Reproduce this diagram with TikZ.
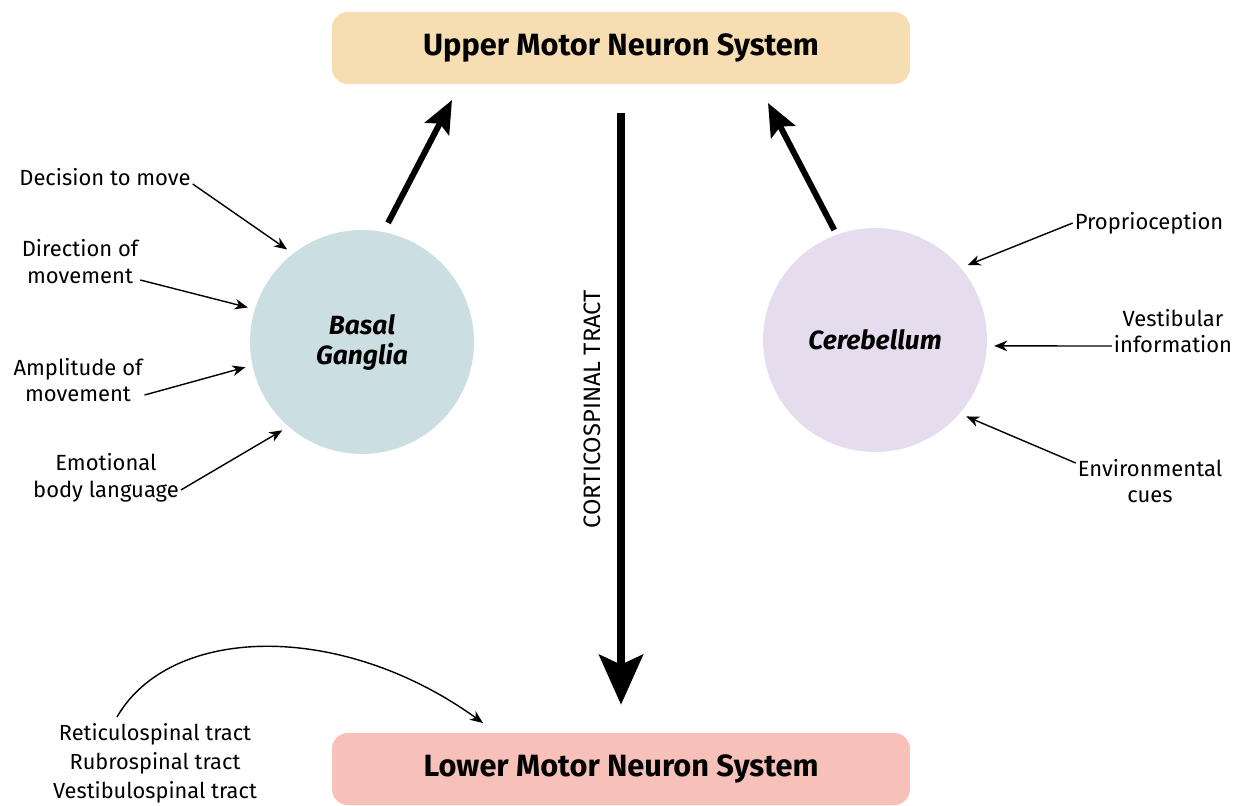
\documentclass[tikz,border=0pt]{standalone}
\usepackage{fontspec}
\setmainfont{Fira Sans}
\usepackage{tikz}
\usetikzlibrary{arrows.meta,calc}
\definecolor{Wheat}{HTML}{F6DEB2}
\definecolor{Salmon}{HTML}{F7C0B8}
\definecolor{Mist}{HTML}{CBDFE3}
\definecolor{Lilac}{HTML}{E5DDEE}
\tikzset{
  sysbox/.style={rounded corners=9pt, minimum width=11.56cm, minimum height=1.44cm, inner sep=0pt, font=\fontsize{17.5}{20}\selectfont\bfseries},
  regioncircle/.style={circle, minimum size=4.48cm, inner sep=0pt, align=center, font=\fontsize{15}{17}\selectfont\bfseries\itshape},
  cuelabel/.style={align=center, inner sep=1pt, font=\fontsize{12.5}{15.3}\selectfont},
  thinarrow/.style={-{Stealth[length=2.6mm,width=2.1mm,inset=0.8mm]}, line width=0.8pt, shorten >=0.14cm},
  thickarrow/.style={-{Stealth[length=6.5mm,width=5.4mm,inset=1.2mm]}, line width=3.4pt},
  tractarrow/.style={-{Stealth[length=1cm,width=8.8mm,inset=2mm]}, line width=4pt},
}

\begin{document}
\begin{tikzpicture}[x=0.02cm,y=-0.02cm]
\path[use as bounding box] (0,0) rectangle (1239,805);

\node[sysbox,fill=Wheat] (upper) at (621,48) {Upper Motor Neuron System};
\node[sysbox,fill=Salmon] (lower) at (621,769) {Lower Motor Neuron System};
\node[regioncircle,fill=Mist] (basal) at (362,342) {Basal\\Ganglia};
\node[regioncircle,fill=Lilac] (cereb) at (875,340) {Cerebellum};

% corticospinal tract
\draw[tractarrow,shorten <=0.58cm,shorten >=0.56cm] (upper) -- (lower);
\node[rotate=90,font=\fontsize{13.5}{16}\selectfont] (cst) at (592,409) {CORTICOSPINAL TRACT};

% outputs to upper system
\coordinate (bgtip) at (452,100);
\coordinate (cbtip) at (768,103);
\draw[thickarrow,shorten <=0.2cm] (basal.79) -- (bgtip);
\draw[thickarrow,shorten <=0.1cm] (cereb.110) -- (cbtip);

% inputs to basal ganglia
\node[cuelabel] (decide) at (105,177) {Decision to move};
\node[cuelabel] (direct) at (80,262) {Direction of\\movement};
\node[cuelabel] (ampl) at (78,380) {Amplitude of\\movement};
\node[cuelabel] (emot) at (106,478) {Emotional\\body language};
\draw[thinarrow] ([yshift=-0.14cm]decide.east) -- (basal.128);
\draw[thinarrow] ([yshift=-0.36cm]direct.east) -- (basal.163);
\draw[thinarrow] ([yshift=-0.3cm]ampl.east) -- (basal.192);
\draw[thinarrow] ([yshift=-0.24cm]emot.east) -- (basal.229);

% inputs to cerebellum
\node[cuelabel] (propr) at (1149,223) {Proprioception};
\node[cuelabel] (vestib) at (1173,331) {Vestibular\\information};
\node[cuelabel] (envir) at (1150,481) {Environmental\\cues};
\draw[thinarrow] (propr.west) -- (cereb.40);
\draw[thinarrow] ([yshift=-0.3cm]vestib.west) -- (cereb.-3);
\draw[thinarrow] ([yshift=0.36cm]envir.west) -- (cereb.-41);

% other descending tracts
\node[align=center,font=\fontsize{12.4}{16.6}\selectfont] (tracts) at (155,763) {Reticulospinal tract\\Rubrospinal tract\\Vestibulospinal tract};
\coordinate (tractsrc) at (117,717);
\coordinate (tractend) at (483,723);
\draw[thinarrow,shorten >=0pt] (tractsrc) .. controls (170,625) and (340,620) .. (tractend);
\end{tikzpicture}
\end{document}
